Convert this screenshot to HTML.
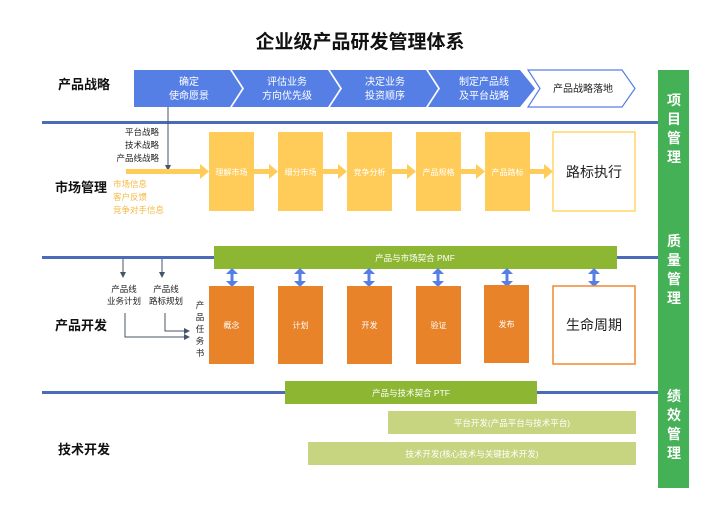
<!DOCTYPE html>
<html><head><meta charset="utf-8"><style>
html,body{margin:0;padding:0;background:#fff;}
svg{display:block;font-family:"Liberation Sans","Noto Sans CJK SC",sans-serif;}
</style></head><body>
<svg width="720" height="520" viewBox="0 0 720 520" xmlns="http://www.w3.org/2000/svg">
<defs>
<marker id="ah" markerWidth="6" markerHeight="6" refX="5" refY="3" orient="auto"><path d="M0,0 L6,3 L0,6 z" fill="#44546a"/></marker>
</defs>
<text x="360" y="48" text-anchor="middle" font-size="19" font-weight="bold" fill="#111">企业级产品研发管理体系</text>
<!-- green side bar -->
<rect x="658" y="70" width="31" height="418" fill="#45b156"/>
<g fill="#fff" font-size="14" font-weight="bold" text-anchor="middle">
<text x="674" y="105">项</text><text x="674" y="124">目</text><text x="674" y="143">管</text><text x="674" y="162">理</text>
<text x="674" y="246">质</text><text x="674" y="265">量</text><text x="674" y="284">管</text><text x="674" y="303">理</text>
<text x="674" y="401">绩</text><text x="674" y="420">效</text><text x="674" y="439">管</text><text x="674" y="458">理</text>
</g>
<!-- left labels -->
<g font-size="13" font-weight="bold" fill="#111">
<text x="58" y="89">产品战略</text><text x="55" y="192">市场管理</text><text x="55" y="330">产品开发</text><text x="58" y="454">技术开发</text>
</g>
<!-- chevrons -->
<g fill="#567fe6">
<polygon points="134,70 230,70 242,88.5 230,107 134,107"/>
<polygon points="232,70 328,70 340,88.5 328,107 232,107 244,88.5"/>
<polygon points="330,70 426,70 438,88.5 426,107 330,107 342,88.5"/>
<polygon points="428,70 520,70 535,88.5 520,107 428,107 440,88.5"/>
</g>
<polygon points="528,70 622,70 635,88.5 622,107 528,107 540,88.5" fill="#fff" stroke="#567fe6" stroke-width="1.2"/>
<g fill="#fff" font-size="10" text-anchor="middle">
<text x="189" y="85">确定</text><text x="189" y="99">使命愿景</text>
<text x="287" y="85">评估业务</text><text x="287" y="99">方向优先级</text>
<text x="385" y="85">决定业务</text><text x="385" y="99">投资顺序</text>
<text x="484" y="85">制定产品线</text><text x="484" y="99">及平台战略</text>
</g>
<text x="583" y="92" text-anchor="middle" font-size="10" fill="#222">产品战略落地</text>
<!-- blue lines -->
<rect x="42" y="121" width="616" height="3" fill="#4a6bb8"/>
<rect x="42" y="256" width="616" height="3" fill="#4a6bb8"/>
<rect x="42" y="391" width="616" height="3" fill="#4a6bb8"/>
<!-- market -->
<line x1="168" y1="107" x2="168" y2="170" stroke="#44546a" stroke-width="1" marker-end="url(#ah)"/>
<g font-size="8.5" fill="#222" text-anchor="end">
<text x="159" y="135">平台战略</text><text x="159" y="148">技术战略</text><text x="159" y="161">产品线战略</text>
</g>
<g font-size="8.5" fill="#f5b942">
<text x="113" y="187">市场信息</text><text x="113" y="200">客户反馈</text><text x="113" y="213">竞争对手信息</text>
</g>
<rect x="126" y="169" width="75" height="5" fill="#ffcc5a"/>
<polygon points="200,164 209,171.5 200,179" fill="#ffcc5a"/>
<g fill="#ffcc5a">
<rect x="209" y="132" width="45" height="79"/><rect x="278" y="132" width="45" height="79"/>
<rect x="347" y="132" width="45" height="79"/><rect x="416" y="132" width="45" height="79"/>
<rect x="485" y="132" width="45" height="79"/>
<rect x="254" y="169" width="16" height="5"/><polygon points="269,164 278,171.5 269,179"/>
<rect x="323" y="169" width="16" height="5"/><polygon points="338,164 347,171.5 338,179"/>
<rect x="392" y="169" width="16" height="5"/><polygon points="407,164 416,171.5 407,179"/>
<rect x="461" y="169" width="16" height="5"/><polygon points="476,164 485,171.5 476,179"/>
<rect x="530" y="169" width="15" height="5"/><polygon points="544,164 553,171.5 544,179"/>
</g>
<rect x="553" y="132" width="82" height="79" fill="#fff" stroke="#ffd56a" stroke-width="1.5"/>
<g fill="#fff" font-size="8" text-anchor="middle">
<text x="231.5" y="175">理解市场</text><text x="300.5" y="175">细分市场</text><text x="369.5" y="175">竞争分析</text>
<text x="438.5" y="175">产品规格</text><text x="507.5" y="175">产品路标</text>
</g>
<text x="594" y="177" text-anchor="middle" font-size="14" fill="#222">路标执行</text>
<!-- product dev -->
<rect x="214" y="246" width="403" height="23" fill="#8db733"/>
<text x="415" y="261" text-anchor="middle" font-size="8.5" fill="#fff">产品与市场契合 PMF</text>
<g fill="#567fe6">
<g id="da"><rect x="230.5" y="273" width="3" height="9"/><polygon points="226,274 232,268 238,274"/><polygon points="226,281 232,287 238,281"/></g>
<use href="#da" x="68"/><use href="#da" x="137"/><use href="#da" x="206"/><use href="#da" x="275"/><use href="#da" x="362"/>
</g>
<g fill="#e8832a">
<rect x="209" y="286" width="45" height="78"/><rect x="278" y="286" width="45" height="78"/>
<rect x="347" y="286" width="45" height="78"/><rect x="416" y="286" width="45" height="78"/>
<rect x="484" y="285" width="45" height="78"/>
</g>
<rect x="553" y="286" width="82" height="78" fill="#fff" stroke="#f08a30" stroke-width="1.5"/>
<g fill="#fff" font-size="8" text-anchor="middle">
<text x="231.5" y="328">概念</text><text x="300.5" y="328">计划</text><text x="369.5" y="328">开发</text>
<text x="438.5" y="328">验证</text><text x="506.5" y="327">发布</text>
</g>
<text x="594" y="330" text-anchor="middle" font-size="14" fill="#222">生命周期</text>
<line x1="123" y1="259" x2="123" y2="277" stroke="#44546a" stroke-width="1" marker-end="url(#ah)"/>
<line x1="162" y1="259" x2="162" y2="277" stroke="#44546a" stroke-width="1" marker-end="url(#ah)"/>
<g font-size="8.5" fill="#222" text-anchor="middle">
<text x="124" y="292">产品线</text><text x="124" y="304">业务计划</text>
<text x="166" y="292">产品线</text><text x="166" y="304">路标规划</text>
</g>
<polyline points="125,313 125,337 189,337" fill="none" stroke="#44546a" stroke-width="1" marker-end="url(#ah)"/>
<polyline points="165,313 165,331 189,331" fill="none" stroke="#44546a" stroke-width="1" marker-end="url(#ah)"/>
<g font-size="8.5" fill="#222" text-anchor="middle">
<text x="200" y="308">产</text><text x="200" y="320">品</text><text x="200" y="332">任</text><text x="200" y="344">务</text><text x="200" y="356">书</text>
</g>
<!-- tech -->
<rect x="285" y="381" width="252" height="23" fill="#8db733"/>
<text x="411" y="396" text-anchor="middle" font-size="8.5" fill="#fff">产品与技术契合 PTF</text>
<rect x="388" y="411" width="248" height="23" fill="#c8d580"/>
<text x="512" y="426" text-anchor="middle" font-size="8.5" fill="#fff">平台开发(产品平台与技术平台)</text>
<rect x="308" y="442" width="328" height="23" fill="#c8d580"/>
<text x="472" y="457" text-anchor="middle" font-size="8.5" fill="#fff">技术开发(核心技术与关键技术开发)</text>
</svg>
</body></html>
